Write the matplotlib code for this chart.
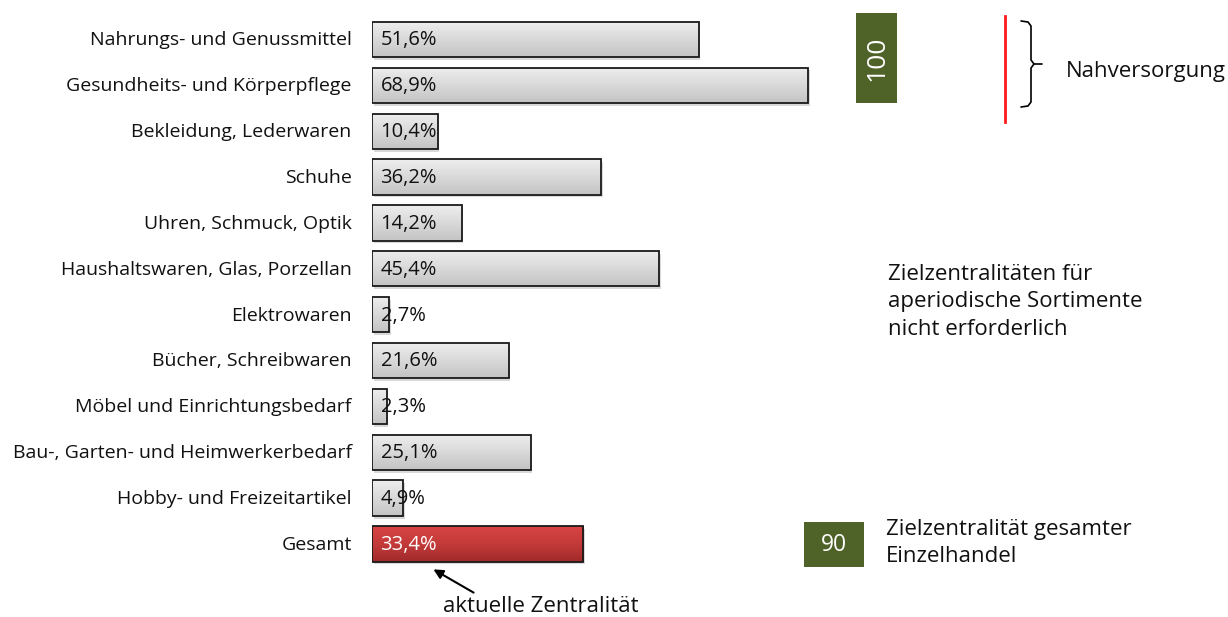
import matplotlib
matplotlib.use("Agg")
import matplotlib.pyplot as plt
import numpy as np
from matplotlib.patches import Rectangle
from matplotlib.colors import LinearSegmentedColormap

categories = ["Nahrungs- und Genussmittel", "Gesundheits- und Körperpflege",
              "Bekleidung, Lederwaren", "Schuhe", "Uhren, Schmuck, Optik",
              "Haushaltswaren, Glas, Porzellan", "Elektrowaren",
              "Bücher, Schreibwaren", "Möbel und Einrichtungsbedarf",
              "Bau-, Garten- und Heimwerkerbedarf", "Hobby- und Freizeitartikel",
              "Gesamt"]
values = [51.6, 68.9, 10.4, 36.2, 14.2, 45.4, 2.7, 21.6, 2.3, 25.1, 4.9, 33.4]
value_labels = ["51,6%", "68,9%", "10,4%", "36,2%", "14,2%", "45,4%", "2,7%",
                "21,6%", "2,3%", "25,1%", "4,9%", "33,4%"]
target_near = 100
target_total = 90

plt.rcParams['font.family'] = ['Open Sans', 'DejaVu Sans']
FS_CAT = 14
FS_VAL = 14.5
FS_NOTE = 16

W, H = 1228, 617
fig = plt.figure(figsize=(W / 100, H / 100), dpi=100)

x0px = 372
pxper = 6.33
y0c, step = 39.5, 45.86
ax = fig.add_axes([x0px / W, 0, 1 - x0px / W, 1])

gray_cmap = LinearSegmentedColormap.from_list("g", ["#eeeeee", "#d9d9d9", "#c4c4c4"])
red_cmap = LinearSegmentedColormap.from_list("r", ["#d84444", "#c43a3a", "#a02a2a"])
bh = 0.77
grad = np.linspace(0, 1, 64).reshape(-1, 1)
for i, (v, lab, cat) in enumerate(zip(values, value_labels, categories)):
    is_total = cat == "Gesamt"
    sh = Rectangle((0.25, i - bh / 2 + 0.06), v, bh, facecolor="#000000", alpha=0.15,
                   edgecolor="none", zorder=1)
    ax.add_patch(sh)
    rect = Rectangle((0, i - bh / 2), v, bh, facecolor="none", edgecolor="#1a1a1a",
                     linewidth=1.3, zorder=3)
    ax.add_patch(rect)
    im = ax.imshow(grad, cmap=red_cmap if is_total else gray_cmap, aspect="auto",
                   extent=(0, v, i + bh / 2, i - bh / 2), zorder=2, interpolation="bicubic")
    im.set_clip_path(rect)
    ax.text(1.35, i + 0.02, lab, va="center", ha="left", fontsize=FS_VAL,
            color="white" if is_total else "#111111", zorder=4)
    ax.text(-3.2, i + 0.02, cat, va="center", ha="right", fontsize=FS_CAT, color="#111111")

ax.set_xlim(0, (W - x0px) / pxper)
ax.set_ylim((H - y0c) / step, -y0c / step)
ax.axis("off")

ov = fig.add_axes([0, 0, 1, 1])
ov.set_xlim(0, W)
ov.set_ylim(H, 0)
ov.axis("off")

xr = x0px + target_near * pxper
ov.plot([xr, xr], [16, 122], color="#ff1a1a", lw=2)
bx = 1021
ov.plot([bx, bx + 7, bx + 10, bx + 10, bx + 13, bx + 21], [21, 22, 26, 60, 64, 64],
        color="black", lw=1.2, solid_capstyle="round")
ov.plot([bx, bx + 7, bx + 10, bx + 10, bx + 13], [107, 106, 102, 68, 64],
        color="black", lw=1.2, solid_capstyle="round")
ov.text(1066, 71, "Nahversorgung", fontsize=FS_NOTE, va="center", ha="left", color="#111111")

ov.add_patch(Rectangle((856, 13), 41, 90, facecolor="#4f6228", edgecolor="none"))
ov.text(877, 58, str(target_near), rotation=90, color="white", fontsize=19,
        ha="center", va="center")

ov.text(888, 302, "Zielzentralitäten für\naperiodische Sortimente\nnicht erforderlich",
        fontsize=FS_NOTE, va="center", ha="left", linespacing=1.42, color="#111111")

ov.add_patch(Rectangle((804, 522), 60, 45, facecolor="#4f6228", edgecolor="none"))
ov.text(834, 545, str(target_total), color="white", fontsize=16.5, ha="center", va="center")
ov.text(886, 543, "Zielzentralität gesamter\nEinzelhandel", fontsize=FS_NOTE, va="center",
        ha="left", linespacing=1.42, color="#111111")

ov.annotate("", xy=(431, 568), xytext=(476, 594),
            arrowprops=dict(arrowstyle="-|>", color="black", lw=1.5, mutation_scale=14))
ov.text(541, 606, "aktuelle Zentralität", fontsize=FS_NOTE, ha="center", va="center",
        color="#111111")

fig.savefig("out.png", dpi=100)
